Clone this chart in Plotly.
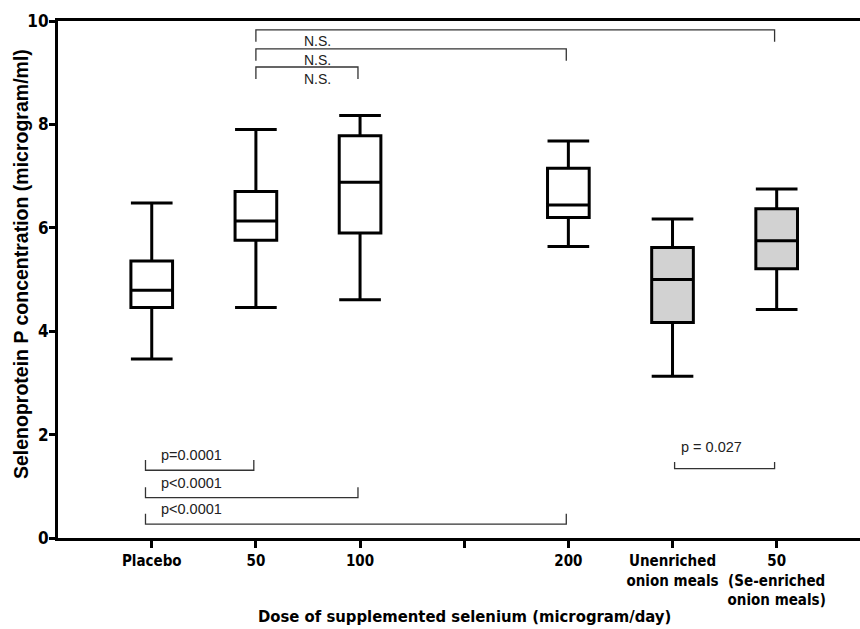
import plotly.graph_objects as go

# ---------------- data ----------------
tick_labels = ["Placebo", "50", "100", "", "200",
               "Unenriched<br>onion meals", "50<br>(Se-enriched<br>onion meals)"]
groups = ["Placebo", "50", "100", "200", "Unenriched onion meals", "50 (Se-enriched onion meals)"]
group_tick_index = [0, 1, 2, 4, 5, 6]
lower_whisker = [3.46, 4.46, 4.61, 5.64, 3.13, 4.42]
q1_vals = [4.46, 5.76, 5.90, 6.20, 4.17, 5.21]
medians = [4.79, 6.13, 6.88, 6.44, 5.00, 5.75]
q3_vals = [5.36, 6.70, 7.78, 7.15, 5.62, 6.37]
upper_whisker = [6.48, 7.90, 8.17, 7.68, 6.17, 6.75]
onion_meal = [False, False, False, False, True, True]

# significance comparisons (group index pairs) and labels
top_pairs = [(1, 5), (1, 3), (1, 2)]
top_labels = ["N.S.", "N.S.", "N.S."]
bottom_pairs = [(0, 1), (0, 2), (0, 3)]
bottom_labels = ["p=0.0001", "p<0.0001", "p<0.0001"]
onion_pair = (4, 5)
onion_label = "p = 0.027"

y_ticks = [0, 2, 4, 6, 8, 10]

x_title = "Dose of supplemented selenium (microgram/day)"
y_title = "Selenoprotein P concentration (microgram/ml)"

# ---------------- figure ----------------
W, H = 860, 629
M_L, M_R, M_T, M_B = 58, 0, 21, 91
plot_h = H - M_T - M_B

def py_to_paper(py):
    return (H - M_B - py) / plot_h

def px_to_paper(px):
    return (px - M_L) / (W - M_L - M_R)

fig = go.Figure()

narrow = "DejaVu Sans Condensed, Liberation Sans Narrow, Arial Narrow, Liberation Sans"
reg = "Liberation Sans, Arial, Helvetica"

for fill, flag in (("white", False), ("#d2d2d2", True)):
    idx = [i for i in range(len(groups)) if onion_meal[i] == flag]
    fig.add_trace(go.Box(
        x=[group_tick_index[i] for i in idx],
        q1=[q1_vals[i] for i in idx],
        median=[medians[i] for i in idx],
        q3=[q3_vals[i] for i in idx],
        lowerfence=[lower_whisker[i] for i in idx],
        upperfence=[upper_whisker[i] for i in idx],
        name="",
        boxpoints=False,
        width=0.4,
        whiskerwidth=1,
        fillcolor=fill,
        line=dict(color="black", width=3),
        hoverinfo="skip",
    ))

shapes = []
annotations = []
br_color = "#333333"
br_w = 1.3

def xpos(g):
    return group_tick_index[g]

# top N.S. brackets (ticks pointing down)
top_levels = [9.83, 9.46, 9.11]
for (a, b), lab, lvl in zip(top_pairs, top_labels, top_levels):
    x0, x1 = xpos(a), xpos(b) - 0.02
    shapes.append(dict(type="path", xref="x", yref="y",
                       path=f"M {x0},{lvl-0.23} L {x0},{lvl} L {x1},{lvl} L {x1},{lvl-0.23}",
                       line=dict(color=br_color, width=br_w)))
    annotations.append(dict(x=x0 + 0.44, y=lvl - 0.03, xref="x", yref="y", text=lab,
                            showarrow=False, xanchor="left", yanchor="top",
                            font=dict(family=reg, size=14, color="#222")))

# bottom p-value brackets (ticks pointing up)
bottom_levels = [1.31, 0.78, 0.27]
for (a, b), lab, lvl in zip(bottom_pairs, bottom_labels, bottom_levels):
    x0, x1 = xpos(a) - 0.06, xpos(b) - 0.02
    shapes.append(dict(type="path", xref="x", yref="y",
                       path=f"M {x0},{lvl+0.2} L {x0},{lvl} L {x1},{lvl} L {x1},{lvl+0.2}",
                       line=dict(color=br_color, width=br_w)))
    annotations.append(dict(x=x0 + 0.13, y=lvl + 0.29, xref="x", yref="y", text=lab,
                            showarrow=False, xanchor="left", yanchor="middle",
                            font=dict(family=reg, size=14.5, color="#222")))

a, b = onion_pair
ox0, ox1 = xpos(a) + 0.02, xpos(b) - 0.02
lvl = 1.34
shapes.append(dict(type="path", xref="x", yref="y",
                   path=f"M {ox0},{lvl+0.13} L {ox0},{lvl} L {ox1},{lvl} L {ox1},{lvl+0.13}",
                   line=dict(color=br_color, width=br_w)))
annotations.append(dict(x=ox0 + 0.04, y=lvl + 0.42, xref="x", yref="y", text=onion_label,
                        showarrow=False, xanchor="left", yanchor="middle",
                        font=dict(family=reg, size=14.5, color="#222")))

# axis titles
annotations.append(dict(x=px_to_paper(464), y=py_to_paper(616), xref="paper", yref="paper",
                        text=f"<b>{x_title}</b>",
                        showarrow=False, xanchor="center", yanchor="middle",
                        font=dict(family=narrow, size=16.5, color="black")))
annotations.append(dict(x=px_to_paper(21), y=py_to_paper(264), xref="paper", yref="paper",
                        text=f"<b>{y_title}</b>", textangle=-90,
                        showarrow=False, xanchor="center", yanchor="middle",
                        font=dict(family=reg, size=19.5, color="black")))

fig.update_layout(
    width=W, height=H,
    margin=dict(l=M_L, r=M_R, t=M_T, b=M_B),
    paper_bgcolor="white", plot_bgcolor="white",
    showlegend=False, hovermode=False,
    shapes=shapes, annotations=annotations,
    xaxis=dict(range=[-0.9, 6.8], tickmode="array",
               tickvals=list(range(len(tick_labels))), ticktext=tick_labels,
               showline=True, linecolor="black", linewidth=3, mirror=True,
               ticks="outside", ticklen=7, tickwidth=2.5, tickcolor="black",
               showgrid=False, zeroline=False,
               tickfont=dict(family=narrow, size=15, color="black", weight="bold")),
    yaxis=dict(range=[0, 10], tickmode="array", tickvals=y_ticks,
               ticktext=[str(v) for v in y_ticks],
               showline=True, linecolor="black", linewidth=3,
               ticks="outside", ticklen=6, tickwidth=3, tickcolor="black",
               ticklabelstandoff=-3,
               showgrid=False, zeroline=False,
               tickfont=dict(family=narrow, size=17, color="black", weight="bold")),
)

fig.write_html("out.html")
